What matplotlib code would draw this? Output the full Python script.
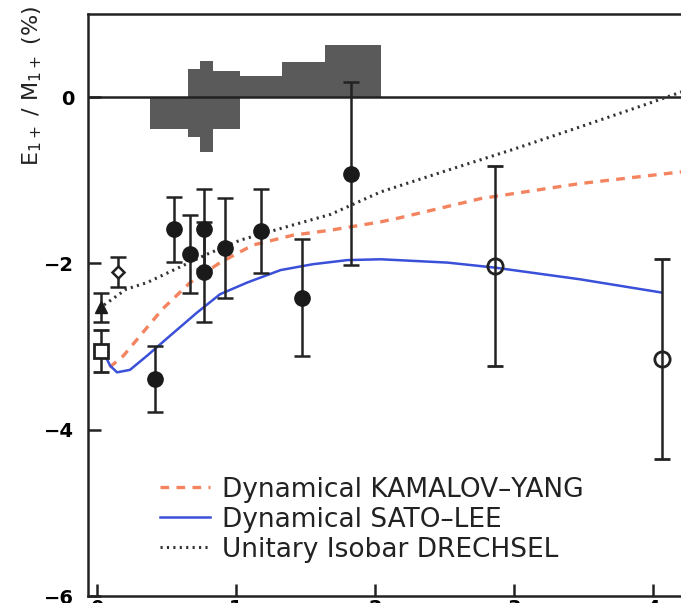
import numpy as np
import matplotlib
matplotlib.use("Agg")
from matplotlib import pyplot as plt

# systematic band (step edges and lower/upper values)
band_x = [0.38, 0.655, 0.74, 0.835, 1.03, 1.33, 1.64, 2.04]
band_lo = [-0.38, -0.48, -0.66, -0.38, 0.0, 0.0, 0.0, 0.0]
band_hi = [0.0, 0.34, 0.44, 0.32, 0.26, 0.42, 0.63, 0.63]

# filled circles
fc_x = [0.42, 0.55, 0.67, 0.77, 0.77, 0.92, 1.18, 1.475, 1.83]
fc_y = [-3.39, -1.59, -1.89, -1.59, -2.10, -1.81, -1.61, -2.41, -0.92]
fc_err = [0.40, 0.39, 0.47, 0.48, 0.60, 0.60, 0.50, 0.70, 1.10]

# open circles
oc_x = [2.86, 4.06]
oc_y = [-2.03, -3.15]
oc_err = [1.20, 1.20]

# low Q2 points
sq_x, sq_y, sq_err = [0.03], [-3.05], [0.25]
tri_x, tri_y, tri_err = [0.03], [-2.53], [0.18]
dia_x, dia_y, dia_err = [0.15], [-2.10], [0.18]

# theory curves
ky_x = [0.09, 0.19, 0.33, 0.47, 0.67, 0.885, 1.12, 1.41, 1.68, 2.04, 2.18, 2.76, 3.47, 4.25]
ky_y = [-3.25, -3.11, -2.83, -2.55, -2.23, -1.99, -1.78, -1.66, -1.60, -1.50, -1.45, -1.22, -1.04, -0.89]

sl_x = [0.03, 0.094, 0.144, 0.237, 0.36, 0.525, 0.72, 0.885, 1.08, 1.32, 1.55, 1.80,
        2.04, 2.52, 2.86, 3.47, 4.06]
sl_y = [-3.01, -3.23, -3.31, -3.28, -3.11, -2.87, -2.59, -2.37, -2.23, -2.08, -2.01,
        -1.96, -1.95, -1.99, -2.05, -2.19, -2.35]

dr_x = [0.05, 0.21, 0.36, 0.55, 0.79, 1.03, 1.32, 1.68, 2.04, 2.52, 2.99, 3.47, 3.96, 4.25]
dr_y = [-2.50, -2.31, -2.23, -2.08, -1.89, -1.72, -1.58, -1.41, -1.14, -0.88, -0.63,
        -0.36, -0.08, 0.09]

fig = plt.figure(figsize=(6.81, 6.03), dpi=100)
ax = fig.add_axes([88 / 681, 1 - 596 / 603, 1 - 88 / 681, (596 - 14) / 603])

ax.fill_between(band_x, band_lo, band_hi, step='post', color='#5a5a5a', lw=0, zorder=1)
ax.axhline(0, color='#222222', lw=1.8, zorder=2)

ax.plot(ky_x, ky_y, color='#f4845f', lw=2.4, ls=(0, (2.6, 2.2)), zorder=3,
        label='Dynamical KAMALOV\u2013YANG')
ax.plot(sl_x, sl_y, color='#3a50d8', lw=1.8, zorder=3, label='Dynamical SATO\u2013LEE')
ax.plot(dr_x, dr_y, color='#333333', lw=2.2, ls=(0, (0.7, 1.4)), zorder=3,
        label='Unitary Isobar DRECHSEL')

eb = dict(color='#222222', elinewidth=1.8, capsize=6, capthick=1.8, ls='none', zorder=4)
ax.errorbar(fc_x, fc_y, yerr=fc_err, fmt='o', ms=11, mfc='#1a1a1a', mec='#1a1a1a', **eb)
ax.errorbar(oc_x, oc_y, yerr=oc_err, fmt='o', ms=11, mfc='none', mec='#222222', mew=2, **eb)
ax.errorbar(sq_x, sq_y, yerr=sq_err, fmt='s', ms=10, mfc='white', mec='#222222', mew=2, **eb)
ax.errorbar(tri_x, tri_y, yerr=tri_err, fmt='^', ms=9, mfc='#1a1a1a', mec='#1a1a1a', **eb)
ax.errorbar(dia_x, dia_y, yerr=dia_err, fmt='D', ms=6, mfc='white', mec='#222222', mew=1.8, **eb)

ax.set_xlim(-0.065, 4.2)
ax.set_ylim(-6, 1)
ax.set_yticks([-6, -4, -2, 0])
ax.set_yticklabels(['\u22126', '\u22124', '\u22122', '0'], fontsize=14, fontweight='bold')
ax.set_xticks([0, 1, 2, 3, 4])
ax.set_xticklabels(['0', '1', '2', '3', '4'], fontsize=14, fontweight='bold')
ax.tick_params(direction='in', length=9, width=1.8, color='#222222', pad=10)
ax.tick_params(axis='x', pad=2)
for s in ['left', 'top', 'bottom']:
    ax.spines[s].set_linewidth(1.8)
    ax.spines[s].set_color('#222222')
ax.spines['right'].set_visible(False)

fig.text(0.048, 0.858, r'E$_{1+}$ / M$_{1+}$ (%)', rotation=90, fontsize=16,
         ha='center', va='center', color='#222222')

leg = ax.legend(loc='upper left', bbox_to_anchor=(0.121, 0.205), frameon=False,
                borderpad=0, borderaxespad=0, fontsize=19, handlelength=1.9,
                handletextpad=0.45, labelspacing=0.15)
for t in leg.get_texts():
    t.set_color('#222222')

fig.savefig('out.png', dpi=100)
